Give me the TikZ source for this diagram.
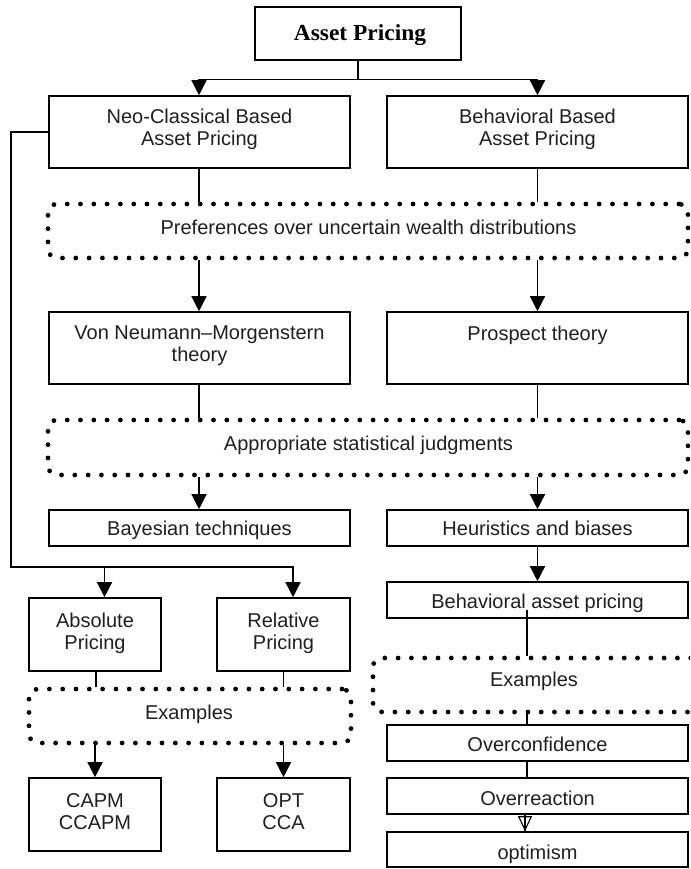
\documentclass[tikz,border=0pt]{standalone}
\usepackage{fontspec}
\setmainfont{Liberation Sans}
\newfontfamily\titlefont{Liberation Serif}[FakeStretch=1.02]
\usetikzlibrary{arrows.meta,calc}

\tikzset{
  box/.style={draw=black, line width=1.6pt, inner sep=0pt, fill=none},
  dotbox/.style={draw=black, line width=4.8pt, dash pattern=on 0pt off 13.3pt,
    line cap=round, rounded corners=9pt, inner sep=0pt},
  lbl/.style={inner sep=0pt, align=center, text=black!88,
    font=\fontsize{20}{22}\selectfont, text height=14pt, text depth=4pt},
  lbltwo/.style={inner sep=0pt, align=center, text=black!88,
    font=\fontsize{20}{22}\selectfont},
  conn/.style={draw=black, line width=1.4pt},
  arr/.style={conn, -{Triangle[length=15pt,width=15pt]}},
  feed/.style={draw=black, line width=2.3pt},
}

\begin{document}
\begin{tikzpicture}[x=1pt,y=-1pt]
\useasboundingbox (0,0) rectangle (690,869);
\clip (0,0) rectangle (690,869);

% --- top ---
\node[box, minimum width=206pt, minimum height=53pt] (title) at (358,33.5) {};
\node[inner sep=0pt, font=\titlefont\fontsize{23}{26}\selectfont\bfseries] (titleT) at (360,35) {Asset Pricing};

\node[box, minimum width=301pt, minimum height=72pt] (neo) at (199.5,132) {};
\node[lbltwo] (neoT) at (199.5,129.5) {Neo-Classical Based\\Asset Pricing};
\node[box, minimum width=301pt, minimum height=72pt] (beh) at (537.5,132) {};
\node[lbltwo] (behT) at (537.5,129.5) {Behavioral Based\\Asset Pricing};

\node[dotbox, minimum width=640pt, minimum height=54pt] (pref) at (368,231) {};
\node[lbl] (prefT) at (368.5,229) {Preferences over uncertain wealth distributions};

\node[box, minimum width=301pt, minimum height=72pt] (vnm) at (199.5,348) {};
\node[lbltwo] (vnmT) at (199.5,346) {Von Neumann--Morgenstern\\theory};
\node[box, minimum width=301pt, minimum height=72pt] (pros) at (537.5,348) {};
\node[lbl] (prosT) at (537.5,335) {Prospect theory};

\node[dotbox, minimum width=640pt, minimum height=55pt] (stat) at (368,447.5) {};
\node[lbl] (statT) at (368.5,445) {Appropriate statistical judgments};

\node[box, minimum width=301pt, minimum height=36pt] (bay) at (199.5,528) {};
\node[lbl] (bayT) at (199.5,530) {Bayesian techniques};
\node[box, minimum width=301pt, minimum height=36pt] (heu) at (537.5,528) {};
\node[lbl] (heuT) at (537.5,530) {Heuristics and biases};

% --- neo-classical branch ---
\node[box, minimum width=132pt, minimum height=73pt] (abs) at (95,634.5) {};
\node[lbltwo] (absT) at (95,633) {Absolute\\Pricing};
\node[box, minimum width=133pt, minimum height=73pt] (rel) at (283.5,634.5) {};
\node[lbltwo] (relT) at (283.5,633) {Relative\\Pricing};

\node[dotbox, minimum width=322pt, minimum height=54pt] (exL) at (190,716) {};
\node[lbl] (exLT) at (189,714) {Examples};

\node[box, minimum width=132pt, minimum height=73pt] (capm) at (95,814.5) {};
\node[lbltwo] (capmT) at (95,811.5) {CAPM\\CCAPM};
\node[box, minimum width=133pt, minimum height=73pt] (opt) at (283.5,814.5) {};
\node[lbltwo] (optT) at (283.5,811.5) {OPT\\CCA};

% --- behavioral branch ---
\node[box, minimum width=301pt, minimum height=36pt] (bap) at (537.5,600) {};
\node[lbl] (bapT) at (537.5,603) {Behavioral asset pricing};

\node[dotbox, minimum width=340pt, minimum height=54pt] (exR) at (543,685) {};
\node[lbl] (exRT) at (534,681) {Examples};

\node[box, minimum width=301pt, minimum height=36pt] (over) at (537.5,743) {};
\node[lbl] (overT) at (537.5,746) {Overconfidence};
\node[box, minimum width=301pt, minimum height=36pt] (overr) at (537.5,796) {};
\node[lbl] (overrT) at (537.5,800) {Overreaction};
\node[box, minimum width=301pt, minimum height=35pt] (optim) at (537.5,849.5) {};
\node[lbl] (optimT) at (537.5,854) {optimism};

% --- connectors ---
\draw[conn] (title.south) -- ++(0,19) coordinate (split);
\draw[arr] (split) -| ([xshift=-0.5pt]neo.north);
\draw[arr] (split) -| (beh.north);

\draw[conn] ([xshift=-0.5pt]neo.south) -- ([xshift=-0.5pt]neo.south |- pref.north);
\draw[conn] (beh.south) -- (beh.south |- pref.north);
\draw[arr] ([xshift=-0.5pt]vnm.north |- pref.south) -- ([xshift=-0.5pt]vnm.north);
\draw[arr] (pros.north |- pref.south) -- (pros.north);

\draw[conn] ([xshift=-0.5pt]vnm.south) -- ([xshift=-0.5pt]vnm.south |- stat.north);
\draw[conn] (pros.south) -- (pros.south |- stat.north);
\draw[arr] ([xshift=-0.5pt]bay.north |- stat.south) -- ([xshift=-0.5pt]bay.north);
\draw[arr] (heu.north |- stat.south) -- (heu.north);

% feed from the neo-classical box down to the pricing boxes
\coordinate (absIn) at ([xshift=9.5pt]abs.north);
\coordinate (relIn) at ([xshift=9.5pt]rel.north);
\coordinate (corner) at (11,567);
\draw[feed, line join=miter] (neo.west) -| (corner) -- (corner -| absIn);
\draw[arr] (corner -| absIn) -- (absIn);
\draw[arr] (corner -| absIn) -| (relIn);

\draw[conn] ([xshift=1pt]abs.south) -- ([xshift=1pt]abs.south |- exL.north);
\draw[conn] (rel.south) -- (rel.south |- exL.north);
\draw[arr] (capm.north |- exL.south) -- (capm.north);
\draw[arr] (opt.north |- exL.south) -- (opt.north);

\draw[arr] (heu.south) -- (bap.north);
\coordinate (rx) at ([xshift=-10.5pt]bap.south);
\draw[conn] ([yshift=9pt]rx) -- (rx |- exR.north);
\draw[conn] (rx |- exR.south) -- (rx |- over.north);
\draw[conn] (rx |- over.south) -- (rx |- overr.north);
\draw[draw=black, line width=1.1pt] ([xshift=-2pt]rx |- overr.south) -- ([xshift=-2pt]rx |- optim.north);
\draw[draw=black, line width=1.1pt, -{Triangle[open,length=15pt,width=14pt]}]
  ([xshift=-2pt]rx |- overr.south) -- ([xshift=-2pt]rx |- optim.north);
\end{tikzpicture}
\end{document}
